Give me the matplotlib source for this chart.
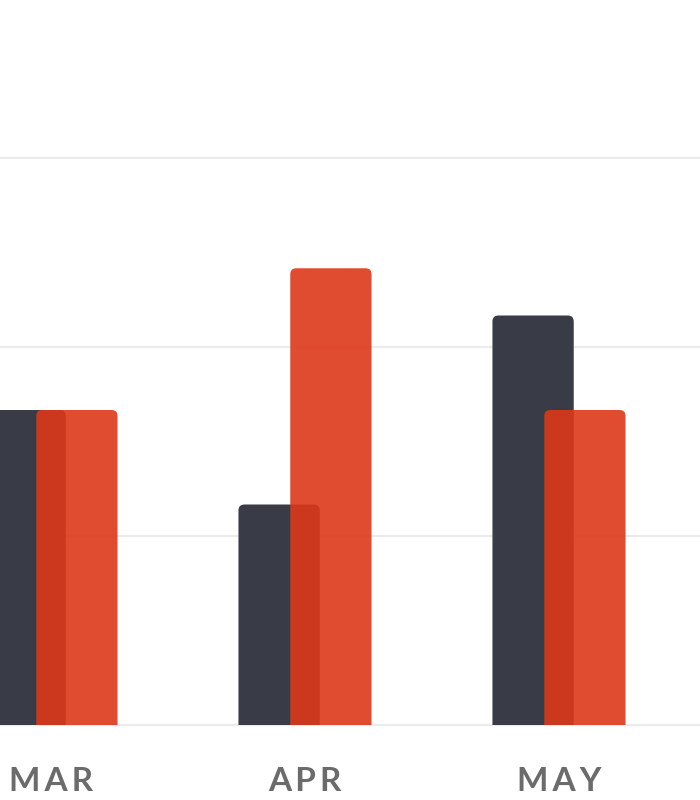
#Grouped bar chart, monthly comparison
import numpy as np
import matplotlib
matplotlib.use("Agg")
import matplotlib.pyplot as plt
from matplotlib.patches import FancyBboxPatch, BoxStyle

#Data
months = ["MAR", "APR", "MAY"]
dark_values = [20, 14, 26]
red_values = [20, 29, 20]
grid_ticks = [0, 12, 24, 36]

#Style
dark_color = "#393c47"
red_color = "#dd3819"
grid_color = "#ebebeb"
label_color = "#6b6b6b"
bar_width = 0.32
offset = 0.102

fig = plt.figure(figsize=(7, 8), dpi=100)
ax = fig.add_axes([0, 75 / 800, 1, 725 / 800])
ax.set_xlim(-51 / 254, (700 - 51) / 254)
ax.set_ylim(0, 725 / 189 * 12)

#rounded corners, same radius in pixels on both axes
px_per_x = 254
px_per_y = 189 / 12
aspect = px_per_x / px_per_y
radius = 6 / px_per_x

x = np.arange(len(months))

def draw_bars(xs, values, color, alpha):
	for xc, v in zip(xs, values):
		p = FancyBboxPatch((xc - bar_width / 2, -1), bar_width, v + 1,
			boxstyle=BoxStyle.Round(pad=0, rounding_size=radius),
			mutation_aspect=aspect, facecolor=color, edgecolor="none",
			alpha=alpha, zorder=2)
		ax.add_patch(p)

draw_bars(x - offset, dark_values, dark_color, 1.0)
draw_bars(x + offset, red_values, red_color, 0.9)

#Grid
ax.set_yticks(grid_ticks)
ax.yaxis.grid(True, color=grid_color, linewidth=1.6)
ax.set_axisbelow(True)
for line in ax.get_ygridlines():
	line.set_clip_on(False)
ax.tick_params(axis="y", left=False, labelleft=False)

#Month labels, spaced out letters
spaced = ["\u2009".join(m) for m in months]
ax.set_xticks(x, spaced)
ax.tick_params(axis="x", length=0, pad=30, labelsize=24, labelcolor=label_color)
for t in ax.get_xticklabels():
	t.set_family(["Lato", "DejaVu Sans"])
	t.set_fontweight("bold")

for s in ax.spines.values():
	s.set_visible(False)

fig.savefig("out.png", dpi=100)
